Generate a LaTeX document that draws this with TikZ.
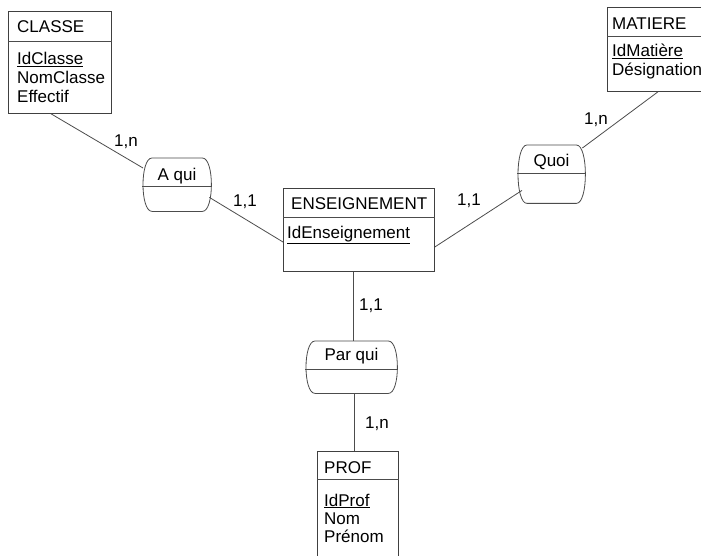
\documentclass[tikz,border=0pt]{standalone}
\usepackage{fontspec}
\setmainfont{Liberation Sans}
\usetikzlibrary{calc}

\tikzset{
  entite/.style={draw=black!75, line width=0.8pt, fill=white, inner sep=0pt, anchor=north west},
  relbox/.style={inner sep=0pt, anchor=north west},
  lien/.style={draw=black!70, line width=0.8pt},
  txt/.style={inner sep=0pt, anchor=base west, font=\fontsize{17}{19}\selectfont},
  card/.style={inner sep=0pt, anchor=base, font=\fontsize{17}{19}\selectfont},
}

% contour d'une association (cotes arrondis)
\newcommand\assoc[2]{%
  \draw[lien] ($(#1.north west)+(10,0)$) -- ($(#1.north east)+(-10,0)$)
    .. controls ($(#1.north east)+(2,0)$) and ($(#1.south east)+(2,0)$) .. ($(#1.south east)+(-10,0)$)
    -- ($(#1.south west)+(10,0)$)
    .. controls ($(#1.south west)+(-2,0)$) and ($(#1.north west)+(-2,0)$) .. ($(#1.north west)+(10,0)$);
  \draw[lien] ($(#1.north west)+(0,#2)$) -- ($(#1.north east)+(0,#2)$);}

\begin{document}
\begin{tikzpicture}[x=1pt, y=-1pt]
            \useasboundingbox (0,0) rectangle (701,556);
            \clip (0,0) rectangle (701,556);
            \fill[white] (0,0) rectangle (701,556);

            % entites
            \node[entite, minimum width=103, minimum height=102] (classe) at (8,11) {};
            \node[entite, minimum width=110, minimum height=84] (matiere) at (607,7) {};
            \node[entite, minimum width=151, minimum height=83] (ens) at (283,188) {};
            \node[entite, minimum width=81, minimum height=120] (prof) at (317,451) {};
            \draw[lien] ($(classe.north west)+(0,30)$) -- ($(classe.north east)+(0,30)$);
            \draw[lien] ($(matiere.north west)+(0,29)$) -- ($(matiere.north east)+(0,29)$);
            \draw[lien] ($(ens.north west)+(0,29)$) -- ($(ens.north east)+(0,29)$);
            \draw[lien] ($(prof.north west)+(0,28)$) -- ($(prof.north east)+(0,28)$);

            % associations
            \node[relbox, minimum width=70, minimum height=53] (aqui) at (142,158) {};
            \node[relbox, minimum width=69, minimum height=58] (quoi) at (517,145) {};
            \node[relbox, minimum width=93, minimum height=52] (parqui) at (305,341) {};
            \assoc{aqui}{28}
            \assoc{quoi}{28}
            \assoc{parqui}{28}

            % liens
            \draw[lien] ($(classe.south west)+(43,0)$) -- ($(aqui.north west)+(1,10)$);
            \draw[lien] ($(aqui.south east)+(-3,-14)$) -- ($(ens.north west)+(0,54)$);
            \draw[lien] ($(ens.north east)+(0,59)$) -- ($(quoi.south west)+(5,-13)$);
            \draw[lien] ($(quoi.north east)+(-4,3)$) -- ($(matiere.south west)+(51,0)$);
            \draw[lien] ($(ens.south west)+(70,0)$) -- ($(parqui.north west)+(48,0)$);
            \draw[lien] ($(parqui.south west)+(49,0)$) -- ($(prof.north west)+(37,0)$);

            % textes
            \node[txt] (tclasse) at (17,33) {CLASSE};
            \node[txt] (idclasse) at (17,65) {\underline{IdClasse}};
            \node[txt] (nomclasse) at (17,84) {NomClasse};
            \node[txt] (effectif) at (17,103) {Effectif};
            \node[txt] (tmatiere) at (612,30) {MATIERE};
            \node[txt] (idmatiere) at (612,57) {\underline{IdMatière}};
            \node[txt] (designation) at (612,76) {Désignation};
            \node[txt] (tens) at (291,210) {ENSEIGNEMENT};
            \node[txt] (idens) at (287,238) {\underline{IdEnseignement}};
            \node[txt] (tprof) at (324,473) {PROF};
            \node[txt] (idprof) at (324,506) {\underline{IdProf}};
            \node[txt] (nom) at (324,524) {Nom};
            \node[txt] (prenom) at (324,542) {Prénom};
            \node[card] (taqui) at (177,181) {A qui};
            \node[card] (tquoi) at (551.5,167) {Quoi};
            \node[card] (tparqui) at (351.5,360) {Par qui};

            % cardinalites
            \node[card] (c1) at (126,147) {1,n};
            \node[card] (c2) at (245,207) {1,1};
            \node[card] (c3) at (469,205) {1,1};
            \node[card] (c4) at (596,125) {1,n};
            \node[card] (c5) at (371,310) {1,1};
            \node[card] (c6) at (377,428) {1,n};
        \end{tikzpicture}
\end{document}
